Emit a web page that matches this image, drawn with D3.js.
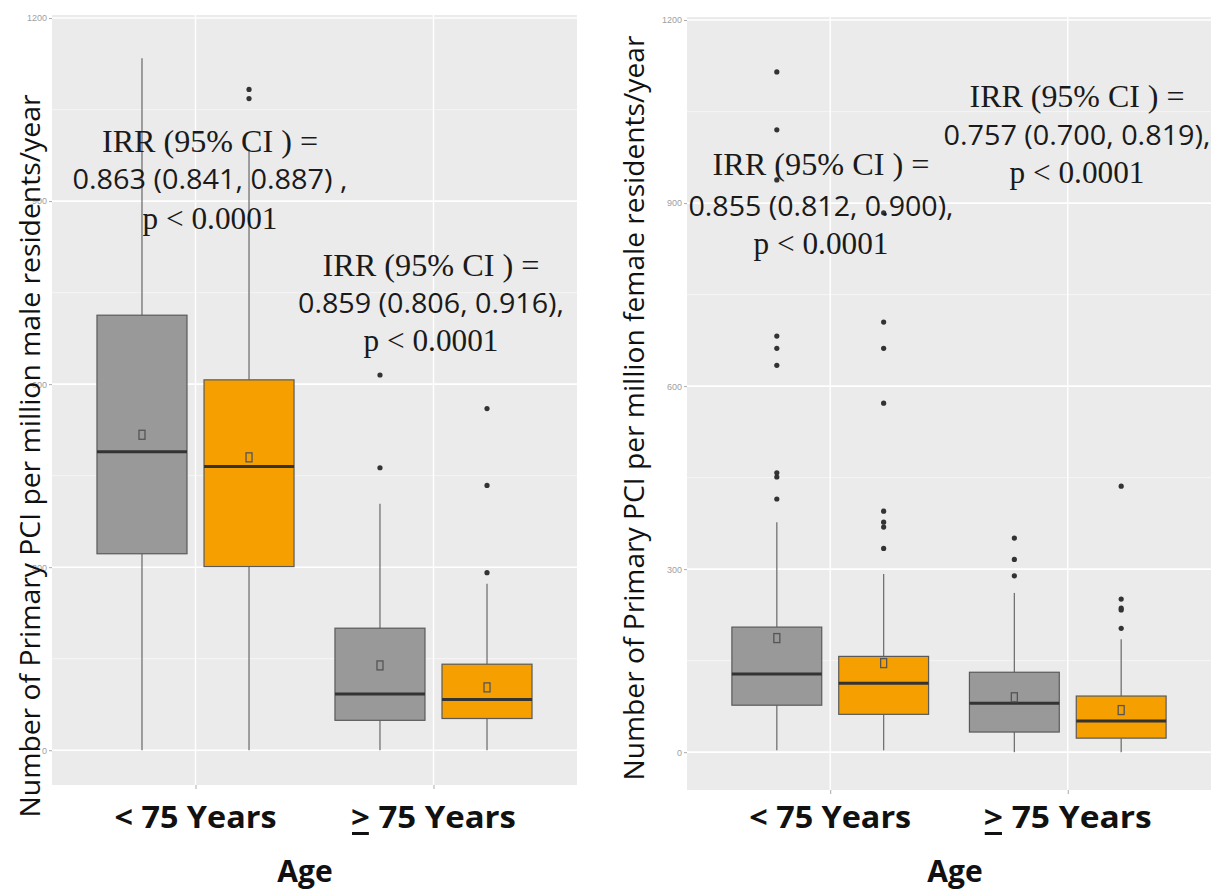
<!DOCTYPE html>
<html>
<head>
<meta charset="utf-8">
<script src="https://cdn.jsdelivr.net/npm/d3@7"></script>
<style>
  body { margin: 0; background: #ffffff; }
  svg { display: block; }
</style>
</head>
<body>
<svg id="chart" width="1219" height="894"></svg>
<script>
// ---- data ---------------------------------------------------------------
const ageGroups = ["lt75", "ge75"];
const ageLabels = ["< 75 Years", "> 75 Years"];   // ">" is underlined (≥)
const periods = ["first", "second"];
const periodColors = ["#999999", "#F5A000"];
const yTicks = [0, 300, 600, 900, 1200];
const yMinorTicks = [150, 450, 750, 1050];

// Primary PCI per million male residents/year
const maleBoxes = [
  { age: "lt75", period: "first",  lo: 0, q1: 322, median: 489, q3: 713, hi: 1134, mean: 517, outliers: [] },
  { age: "lt75", period: "second", lo: 0, q1: 301, median: 465, q3: 607, hi: 985,  mean: 480, outliers: [1068, 1083] },
  { age: "ge75", period: "first",  lo: 0, q1: 49,  median: 92,  q3: 200, hi: 404,  mean: 139, outliers: [463, 615] },
  { age: "ge75", period: "second", lo: 0, q1: 52,  median: 83,  q3: 141, hi: 273,  mean: 103, outliers: [291, 434, 560] }
];

// Primary PCI per million female residents/year
const femaleBoxes = [
  { age: "lt75", period: "first",  lo: 3, q1: 77, median: 128, q3: 205, hi: 377, mean: 187, outliers: [415, 451, 458, 634, 662, 682, 938, 1020, 1115] },
  { age: "lt75", period: "second", lo: 3, q1: 62, median: 113, q3: 157, hi: 292, mean: 146, outliers: [334, 369, 377, 395, 572, 662, 705, 884] },
  { age: "ge75", period: "first",  lo: 0, q1: 33, median: 80,  q3: 131, hi: 261, mean: 90,  outliers: [289, 316, 351] },
  { age: "ge75", period: "second", lo: 0, q1: 23, median: 51,  q3: 92,  hi: 185, mean: 69,  outliers: [203, 233, 236, 251, 436] }
];

const maleNotes = [
  ["IRR (95% CI ) =", "0.863 (0.841, 0.887) ,", "p < 0.0001"],
  ["IRR (95% CI ) =", "0.859 (0.806, 0.916),", "p < 0.0001"]
];
const femaleNotes = [
  ["IRR (95% CI ) =", "0.855 (0.812, 0.900),", "p < 0.0001"],
  ["IRR (95% CI ) =", "0.757 (0.700, 0.819),", "p < 0.0001"]
];

const maleTitle = "Number of Primary PCI per million male  residents/year";
const femaleTitle = "Number of Primary PCI per million female residents/year";
const xTitle = "Age";

// ---- layout -------------------------------------------------------------
const panels = [
  {
    boxes: maleBoxes, notes: maleNotes, title: maleTitle,
    bg: { x0: 52, x1: 577, y0: 15, y1: 785 }, yDomain: [-57, 1205],
    title_: { x: 30, y: 456, len: 723 },
    ageTitle: { x: 305, y: 882 },
    tickLabel: { y: 828, lens: [162, 165] },
    noteBlocks: [
      { cx: 210, base: [152, 189, 229], lens: [216, 275, 135] },
      { cx: 431, base: [276, 313, 351], lens: [217, 266, 135] }
    ]
  },
  {
    boxes: femaleBoxes, notes: femaleNotes, title: femaleTitle,
    bg: { x0: 687, x1: 1211, y0: 17, y1: 790 }, yDomain: [-62, 1205],
    title_: { x: 634, y: 408, len: 745 },
    ageTitle: { x: 955, y: 882 },
    tickLabel: { y: 828, lens: [162, 168] },
    noteBlocks: [
      { cx: 821, base: [175, 216, 254], lens: [217, 265, 135] },
      { cx: 1077, base: [107, 145, 183], lens: [215, 267, 135] }
    ]
  }
];

const svg = d3.select("#chart");
const serif = "'Liberation Serif', 'Times New Roman', serif";
const sans = "'Open Sans', 'Liberation Sans', sans-serif";

function drawPanel(p) {
  const g = svg.append("g");
  const { bg } = p;

  const y = d3.scaleLinear().domain(p.yDomain).range([bg.y1, bg.y0]);
  const x = d3.scalePoint().domain(ageGroups).range([bg.x0, bg.x1]).padding(0.603);
  const step = x.step();
  const xs = d3.scaleBand().domain(periods)
    .range([-0.414 * step, 0.414 * step]).paddingInner(0.159);
  const color = d3.scaleOrdinal().domain(periods).range(periodColors);

  // panel background and grid
  g.append("rect")
    .attr("x", bg.x0).attr("y", bg.y0)
    .attr("width", bg.x1 - bg.x0).attr("height", bg.y1 - bg.y0)
    .attr("fill", "#EBEBEB");

  g.selectAll(".minor").data(yMinorTicks).join("line")
    .attr("x1", bg.x0).attr("x2", bg.x1)
    .attr("y1", d => y(d)).attr("y2", d => y(d))
    .attr("stroke", "#F7F7F7").attr("stroke-width", 0.8);

  g.selectAll(".major").data(yTicks).join("line")
    .attr("x1", bg.x0).attr("x2", bg.x1)
    .attr("y1", d => y(d)).attr("y2", d => y(d))
    .attr("stroke", "#FFFFFF").attr("stroke-width", 1.6);

  g.selectAll(".vgrid").data(ageGroups).join("line")
    .attr("x1", d => x(d)).attr("x2", d => x(d))
    .attr("y1", bg.y0).attr("y2", bg.y1)
    .attr("stroke", "#FFFFFF").attr("stroke-width", 1.4);

  // y axis
  const yAxis = g.append("g")
    .attr("transform", `translate(${bg.x0},0)`)
    .call(d3.axisLeft(y).tickValues(yTicks).tickFormat(d3.format("d"))
      .tickSize(3).tickPadding(2));
  yAxis.select(".domain").remove();
  yAxis.selectAll("line").attr("stroke", "#AAAAAA");
  yAxis.selectAll("text")
    .attr("fill", "#A0A0A0")
    .style("font-family", "'Liberation Sans Narrow', 'Liberation Sans', sans-serif")
    .style("font-size", "9px");

  // x axis ticks
  const xAxis = g.append("g")
    .attr("transform", `translate(0,${bg.y1})`)
    .call(d3.axisBottom(x).tickSize(4).tickFormat(""));
  xAxis.select(".domain").remove();
  xAxis.selectAll("line").attr("stroke", "#AAAAAA");

  // boxes
  const cx = b => x(b.age) + xs(b.period) + xs.bandwidth() / 2;
  const bw = xs.bandwidth();
  const boxes = g.selectAll(".box").data(p.boxes).join("g");

  boxes.append("line")
    .attr("x1", cx).attr("x2", cx)
    .attr("y1", b => y(b.lo)).attr("y2", b => y(b.q1))
    .attr("stroke", "#727272").attr("stroke-width", 1.3);
  boxes.append("line")
    .attr("x1", cx).attr("x2", cx)
    .attr("y1", b => y(b.q3)).attr("y2", b => y(b.hi))
    .attr("stroke", "#727272").attr("stroke-width", 1.3);

  boxes.append("rect")
    .attr("x", b => cx(b) - bw / 2).attr("width", bw)
    .attr("y", b => y(b.q3)).attr("height", b => y(b.q1) - y(b.q3))
    .attr("fill", b => color(b.period))
    .attr("stroke", "#5A5A5A").attr("stroke-width", 1.2);

  boxes.append("line")
    .attr("x1", b => cx(b) - bw / 2).attr("x2", b => cx(b) + bw / 2)
    .attr("y1", b => y(b.median)).attr("y2", b => y(b.median))
    .attr("stroke", "#333333").attr("stroke-width", 3);

  boxes.append("rect")
    .attr("x", b => cx(b) - 3).attr("width", 6)
    .attr("y", b => y(b.mean) - 4.5).attr("height", 9)
    .attr("fill", "none")
    .attr("stroke", "#555555").attr("stroke-width", 1.3);

  boxes.each(function (b) {
    d3.select(this).selectAll("circle").data(b.outliers).join("circle")
      .attr("cx", cx(b)).attr("cy", d => y(d)).attr("r", 2.6)
      .attr("fill", "#333333");
  });

  // IRR annotations
  p.notes.forEach((lines, i) => {
    const blk = p.noteBlocks[i];
    lines.forEach((t, j) => {
      g.append("text")
        .attr("x", blk.cx).attr("y", blk.base[j])
        .attr("text-anchor", "middle")
        .attr("textLength", blk.lens[j])
        .attr("lengthAdjust", "spacingAndGlyphs")
        .style("font-family", j === 1 ? sans : serif)
        .style("font-size", j === 1 ? "28px" : "32px")
        .attr("fill", "#1A1A1A")
        .text(t);
    });
  });

  // category labels
  ageGroups.forEach((a, i) => {
    const t = g.append("text")
      .attr("x", x(a)).attr("y", p.tickLabel.y)
      .attr("text-anchor", "middle")
      .attr("textLength", p.tickLabel.lens[i])
      .attr("lengthAdjust", "spacingAndGlyphs")
      .style("font-family", sans).style("font-weight", "700")
      .style("font-size", "30px").attr("fill", "#111111")
      .text(ageLabels[i]);
    if (i === 1) {
      const ext = t.node().getExtentOfChar(0);
      g.append("rect")
        .attr("x", ext.x + 1).attr("width", ext.width - 2)
        .attr("y", p.tickLabel.y + 4).attr("height", 3)
        .attr("fill", "#111111");
    }
  });

  // axis titles
  g.append("text")
    .attr("x", p.ageTitle.x).attr("y", p.ageTitle.y)
    .attr("text-anchor", "middle")
    .style("font-family", sans).style("font-weight", "700")
    .style("font-size", "30px").attr("fill", "#111111")
    .text(xTitle);

  g.append("text")
    .attr("transform", `translate(${p.title_.x},${p.title_.y}) rotate(-90)`)
    .attr("text-anchor", "middle")
    .attr("dy", "0.35em")
    .attr("textLength", p.title_.len)
    .attr("lengthAdjust", "spacingAndGlyphs")
    .style("font-family", sans).style("font-size", "28px")
    .attr("fill", "#111111")
    .text(p.title);
}

panels.forEach(drawPanel);
</script>
</body>
</html>
